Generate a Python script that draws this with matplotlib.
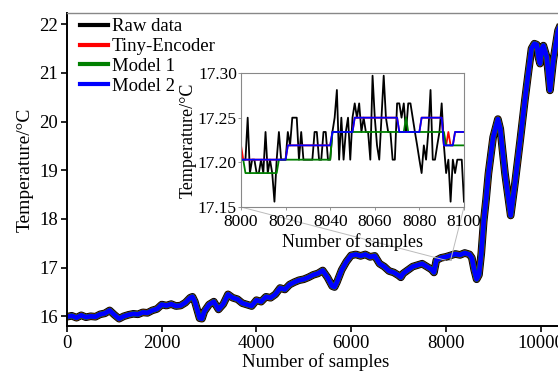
import matplotlib
matplotlib.use('Agg')
import matplotlib.pyplot as plt
from mpl_toolkits.axes_grid1.inset_locator import mark_inset

plt.rcParams['font.family'] = ['Liberation Serif', 'DejaVu Serif']

# whole record
samples = [0, 100, 200, 300, 400, 500, 600, 700, 800, 900, 1000, 1100, 1200, 1300,
           1400, 1500, 1600, 1700, 1800, 1900, 2000, 2100, 2200, 2300, 2400, 2500,
           2600, 2650, 2700, 2800, 2850, 2900, 3000, 3100, 3200, 3300, 3400, 3500,
           3600, 3700, 3800, 3900, 4000, 4100, 4200, 4300, 4400, 4500, 4600, 4700,
           4800, 4900, 5000, 5100, 5200, 5300, 5400, 5500, 5600, 5650, 5700, 5800,
           5900, 6000, 6100, 6200, 6300, 6400, 6500, 6600, 6700, 6800, 6900, 7000,
           7050, 7100, 7200, 7300, 7400, 7500, 7600, 7700, 7750, 7800, 7900, 8000,
           8100, 8200, 8300, 8400, 8500, 8550, 8600, 8650, 8700, 8750, 8800, 8850,
           8900, 9000, 9100, 9150, 9250, 9370, 9460, 9570, 9670, 9740, 9810, 9870,
           9920, 9960, 9990, 10030, 10060, 10130, 10200, 10270, 10370, 10450]
temp = [15.99, 16.01, 15.97, 16.02, 15.98, 16.00, 15.99, 16.04, 16.06, 16.12, 16.03,
        15.95, 16.00, 16.03, 16.05, 16.04, 16.08, 16.07, 16.12, 16.15, 16.24, 16.22,
        16.25, 16.21, 16.22, 16.28, 16.38, 16.40, 16.30, 15.96, 15.95, 16.10, 16.24,
        16.30, 16.14, 16.25, 16.45, 16.38, 16.35, 16.27, 16.24, 16.21, 16.33, 16.30,
        16.40, 16.38, 16.45, 16.58, 16.55, 16.65, 16.70, 16.74, 16.76, 16.80, 16.85,
        16.88, 16.94, 16.80, 16.62, 16.60, 16.70, 16.95, 17.12, 17.25, 17.27, 17.24,
        17.27, 17.22, 17.24, 17.08, 17.02, 16.93, 16.90, 16.84, 16.80, 16.88, 16.95,
        17.02, 17.05, 17.08, 17.02, 16.96, 16.90, 17.15, 17.20, 17.22, 17.25, 17.28,
        17.26, 17.30, 17.27, 17.20, 16.95, 16.76, 16.85, 17.30, 17.95, 18.40, 18.93,
        19.68, 20.05, 19.85, 18.93, 18.07, 18.73, 19.61, 20.44, 20.98, 21.50, 21.60,
        21.58, 21.30, 21.19, 21.50, 21.56, 21.33, 20.64, 21.26, 21.87, 22.05]

# zoomed window 8000-8100
zoom_x = list(range(8000, 8101))
zoom_raw = [17.203, 17.203, 17.203, 17.25, 17.188, 17.203, 17.203, 17.188, 17.188, 17.203,
            17.188, 17.234, 17.188, 17.203, 17.188, 17.156, 17.203, 17.234, 17.203, 17.203,
            17.203, 17.234, 17.219, 17.25, 17.25, 17.25, 17.203, 17.234, 17.203, 17.203,
            17.203, 17.203, 17.203, 17.234, 17.234, 17.203, 17.203, 17.234, 17.234, 17.203,
            17.203, 17.234, 17.25, 17.281, 17.203, 17.25, 17.203, 17.234, 17.25, 17.203,
            17.25, 17.266, 17.25, 17.266, 17.234, 17.25, 17.234, 17.234, 17.203, 17.297,
            17.25, 17.219, 17.203, 17.25, 17.297, 17.25, 17.234, 17.234, 17.203, 17.203,
            17.266, 17.266, 17.25, 17.266, 17.234, 17.266, 17.266, 17.25, 17.234, 17.219,
            17.203, 17.188, 17.219, 17.203, 17.234, 17.281, 17.203, 17.203, 17.219, 17.234,
            17.266, 17.219, 17.188, 17.203, 17.156, 17.203, 17.188, 17.203, 17.203, 17.203,
            17.156]
zoom_tiny = [17.219] + [17.203] * 20 + [17.219] * 20 + [17.234] * 10 + [17.25] * 20 \
    + [17.234] * 10 + [17.25] * 10 + [17.219, 17.219, 17.234, 17.219, 17.219] + [17.234] * 5
zoom_m1 = [17.203, 17.203] + [17.188] * 15 + [17.203] * 24 + [17.234] * 33 + [17.25] \
    + [17.234] * 17 + [17.219] * 9
zoom_m2 = [17.203] * 21 + [17.219] * 20 + [17.234] * 10 + [17.25] * 20 + [17.234] * 10 \
    + [17.25] * 10 + [17.219] * 5 + [17.234] * 5

fig = plt.figure(figsize=(5.58, 3.71), dpi=100)
ax = fig.add_axes([0.1201, 0.1213, 0.891, 0.8437])

ax.plot(samples, temp, color='black', lw=5.5, label='Raw data')
ax.plot(samples, temp, color='red', lw=4.2, label='Tiny-Encoder')
ax.plot(samples, temp, color='green', lw=4.0, label='Model 1')
ax.plot(samples, temp, color='blue', lw=3.4, label='Model 2')

ax.set_xlim(0, 10500)
ax.set_ylim(15.8, 22.23)
ax.set_xticks([0, 2000, 4000, 6000, 8000, 10000])
ax.set_yticks([16, 17, 18, 19, 20, 21, 22])
ax.tick_params(labelsize=13.5, width=1.2, length=4, direction='out', pad=2.5)
for s in ['left', 'bottom']:
    ax.spines[s].set_linewidth(1.4)
ax.spines['top'].set_color('#888888')
ax.spines['top'].set_linewidth(1.0)
ax.set_xlabel('Number of samples', fontsize=13.5, labelpad=1)
ax.set_ylabel('Temperature/°C', fontsize=14, labelpad=4)

leg = ax.legend(loc='upper left', frameon=False, fontsize=13.5, handlelength=1.5,
                handletextpad=0.2, labelspacing=0.14, borderaxespad=0.3,
                bbox_to_anchor=(0.0, 1.025))
for h in leg.get_lines():
    h.set_linewidth(3)

# inset
axins = fig.add_axes([0.4319, 0.442, 0.3996, 0.3612])
axins.plot(zoom_x, zoom_raw, color='black', lw=1.3)
axins.plot(zoom_x, zoom_tiny, color='red', lw=1.3)
axins.plot(zoom_x, zoom_m1, color='green', lw=1.3)
axins.plot(zoom_x, zoom_m2, color='blue', lw=1.3)
axins.set_xlim(8000, 8100)
axins.set_ylim(17.15, 17.30)
axins.set_xticks([8000, 8020, 8040, 8060, 8080, 8100])
axins.set_yticks([17.15, 17.20, 17.25, 17.30])
axins.set_yticklabels(['17.15', '17.20', '17.25', '17.30'])
axins.tick_params(labelsize=12.5, length=2, width=0.6, color='#888888')
axins.tick_params(axis='x', pad=3)
axins.tick_params(axis='y', pad=1)
for s in axins.spines.values():
    s.set_color('#888888')
    s.set_linewidth(0.8)
axins.set_xlabel('Number of samples', fontsize=13, labelpad=2)
axins.set_ylabel('Temperature/°C', fontsize=13, labelpad=1)

mark_inset(ax, axins, loc1=3, loc2=4, fc='none', ec='#bbbbbb', lw=0.7)

fig.savefig('out.png', dpi=100)
